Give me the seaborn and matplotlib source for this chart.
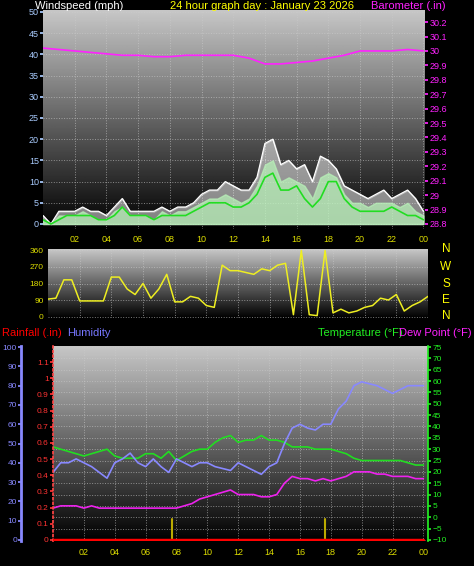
import numpy as np
import pandas as pd
import matplotlib
matplotlib.use("Agg")
import matplotlib.pyplot as plt
import seaborn as sns

sns.set_theme(style="dark")
plt.rcParams['font.family'] = ['Liberation Sans', 'DejaVu Sans']

hours = [i * 0.5 for i in range(49)]
gust = [2,0,3,3,3,4,3,3,2,4,6,3,3,3,3,4,3,4,4,5,7,8,8,10,9,8,8,11,19,20,14,15,13,14,10,16,15,13,9,8,7,6,7,8,6,7,8,6,3]
speed = [1,0,2,2,2,3,2,1,1,3,4,2,2,2,1,3,2,3,3,4,5,6,6,7,6,5,6,9,14,15,10,11,10,9,6,11,12,11,7,5,5,4,5,5,5,4,5,3,2]
avgwind = [1,0,1,2,2,2,2,1,1,2,4,2,2,2,1,2,2,2,2,3,4,5,5,5,4,4,5,7,11,12,8,8,9,6,4,6,10,10,6,4,3,3,3,3,4,3,2,2,1]
baro_hours = list(range(25))
baro = [30.02,30.01,30.0,29.99,29.98,29.97,29.97,29.96,29.96,29.97,29.97,29.97,29.97,29.95,29.91,29.91,29.92,29.93,29.95,29.97,30.0,30.0,30.0,30.01,30.0]
direction = [95,100,200,200,85,85,85,85,215,215,150,120,180,100,150,230,80,80,110,100,60,50,280,250,250,240,230,260,250,280,290,10,360,10,5,360,20,40,20,30,50,60,100,90,120,30,60,80,110]
humidity = [35,40,40,42,40,38,35,32,40,42,45,40,38,42,38,35,42,40,38,40,40,38,37,36,40,38,36,34,38,40,50,58,60,58,57,60,60,68,72,80,82,81,80,78,76,78,80,80,80]
temperature = [31,30,29,28,27,28,29,30,27,26,26,26,28,28,26,29,25,27,29,30,30,33,35,36,33,34,34,36,34,34,33,31,31,31,30,30,30,29,28,26,25,25,25,25,25,25,24,23,23]
dewpoint = [4,5,5,5,4,5,4,4,4,4,4,4,4,4,4,4,4,5,6,8,9,10,11,12,10,10,10,9,9,10,15,18,17,17,16,17,16,17,18,20,20,20,19,19,18,18,18,17,17]
rain = [0.0] * 49
markers = [7.7, 17.6]
xtick_pos = list(range(2, 25, 2))
xtick_lab = ["02","04","06","08","10","12","14","16","18","20","22","00"]

W, H = 474, 566
fig = plt.figure(figsize=(W/100, H/100), dpi=100, facecolor="black")

def rect(x0, y0, x1, y1):
    return [x0/W, 1 - y1/H, (x1-x0)/W, (y1-y0)/H]

grad = np.linspace(0.78, 0.0, 256).reshape(-1, 1)
def bg(ax):
    ax.imshow(grad, cmap="gray", vmin=0, vmax=1, aspect="auto",
              extent=[0, 1, 0, 1], transform=ax.transAxes, zorder=0)
    ax.grid(True, color="#cccccc", ls=":", lw=0.7, alpha=0.6)
    ax.set_facecolor("black")
    for s in ax.spines.values():
        s.set_visible(False)

fs = 6.5
tfs = 8
# ---- top panel
ax1 = fig.add_axes(rect(43, 10, 425, 229))
bg(ax1)
ax1.fill_between(hours, gust, color="white", alpha=0.5, zorder=2)
sns.lineplot(x=hours, y=gust, ax=ax1, color="white", lw=0.9, zorder=3)
ax1.fill_between(hours, speed, color="#b8f0b8", alpha=0.75, zorder=4)
sns.lineplot(x=hours, y=avgwind, ax=ax1, color="#22dd22", lw=1.2, zorder=5)
ax1.set_xlim(0, 24.1)
ax1.set_ylim(-1.18, 50.47)
ax1.set_yticks(range(0, 51, 5))
ax1.set_xticks(xtick_pos)
ax1.set_xticklabels(xtick_lab)
ax1.tick_params(axis="y", colors="#aaccff", labelsize=fs, length=2, pad=1)
ax1.tick_params(axis="x", colors="#dddd00", labelsize=fs, length=2, pad=2)
ax1b = ax1.twinx()
sns.lineplot(x=baro_hours, y=baro, ax=ax1b, color="#ff22ff", lw=1.2)
ax1b.set_ylim(28.765, 30.284)
bt = np.round(np.arange(28.8, 30.25, 0.1), 1)
ax1b.set_yticks(bt)
ax1b.set_yticklabels([("%g" % v) for v in bt])
ax1b.tick_params(axis="y", colors="#ff22ff", labelsize=fs, length=2, pad=1)
for s in ax1b.spines.values():
    s.set_visible(False)
ax1b.set_ylabel("")
ax1.set_ylabel("")
fig.text(35/W, 1-6/H, "Windspeed (mph)", color="white", fontsize=tfs, va="center")
fig.text(262/W, 1-6/H, "24 hour graph day : January 23 2026", color="yellow", fontsize=tfs, va="center", ha="center")
fig.text(446/W, 1-6/H, "Barometer (.in)", color="#ff22ff", fontsize=tfs, va="center", ha="right")

# ---- middle panel
ax2 = fig.add_axes(rect(48, 249, 428, 318))
bg(ax2)
sns.lineplot(x=hours, y=direction, ax=ax2, color="#eeee22", lw=1.1)
ax2.set_xlim(0, 24)
ax2.set_ylim(-8, 368)
ax2.set_yticks([0, 90, 180, 270, 360])
ax2.set_xticks(xtick_pos)
ax2.set_xticklabels([])
ax2.tick_params(axis="y", colors="#dddd00", labelsize=fs - 0.5, length=2, pad=1)
ax2.tick_params(axis="x", length=0)
ax2.set_ylabel("")
for lab, yp in zip(["N", "W", "S", "E", "N"], [249, 267, 284, 300, 316]):
    fig.text(446/W, 1-yp/H, lab, color="yellow", fontsize=8.5, ha="center", va="center")

# ---- bottom panel
ax3 = fig.add_axes(rect(53, 346, 428, 541))
bg(ax3)
sns.lineplot(x=hours, y=temperature, ax=ax3, color="#22dd22", lw=1.2, zorder=4)
sns.lineplot(x=hours, y=dewpoint, ax=ax3, color="#ee22ee", lw=1.2, zorder=4)
for m in markers:
    ax3.plot([m, m], [-10.5, -1], color="#bbaa00", lw=1.5, zorder=3)
ax3.set_xlim(0, 24.3)
ax3.set_ylim(-10.5, 75.5)
ax3.set_ylabel("")

axh = ax3.twinx()
sns.lineplot(x=hours, y=humidity, ax=axh, color="#8888ff", lw=1.2, zorder=5)
axh.set_ylim(-0.6, 100.6)
axh.set_yticks(range(0, 101, 10))
axh.yaxis.tick_left()
axh.yaxis.set_label_position("left")
axh.spines["left"].set_position(("outward", 23))
axh.spines["left"].set_visible(True)
axh.spines["left"].set_color("#8888ff")
axh.spines["left"].set_linewidth(2)
for k in ["right", "top", "bottom"]:
    axh.spines[k].set_visible(False)
axh.tick_params(axis="y", colors="#8888ff", labelsize=fs - 0.5, length=2, pad=1)
axh.set_ylabel("")

axr = ax3.twinx()
sns.lineplot(x=hours, y=rain, ax=axr, color="red", lw=2.5, zorder=6)
axr.set_ylim(-0.007, 1.2)
rt = [0, 0.1, 0.2, 0.3, 0.4, 0.5, 0.6, 0.7, 0.8, 0.9, 1, 1.1]
axr.set_yticks(rt)
axr.set_yticklabels([("%g" % v) for v in rt])
axr.yaxis.tick_left()
axr.spines["left"].set_visible(True)
axr.spines["left"].set_color("#ff4444")
axr.spines["left"].set_linestyle(":")
for k in ["right", "top", "bottom"]:
    axr.spines[k].set_visible(False)
axr.tick_params(axis="y", colors="#ff3333", labelsize=fs - 0.5, length=2, pad=1)
axr.set_ylabel("")

# temperature axis on the right (after twinx calls)
ax3.yaxis.tick_right()
ax3.set_yticks(range(-10, 76, 5))
ax3.tick_params(axis="y", colors="#22ee22", labelsize=fs - 0.5, length=2, pad=1,
                left=False, labelleft=False, right=True, labelright=True)
ax3.set_xticks(xtick_pos)
ax3.set_xticklabels(xtick_lab)
ax3.tick_params(axis="x", colors="#dddd00", labelsize=fs, length=2, pad=3)
ax3.spines["right"].set_visible(True)
ax3.spines["right"].set_color("#22ee22")

fig.text(2/W, 1-333/H, "Rainfall (.in)", color="red", fontsize=tfs, va="center")
fig.text(67/W, 1-333/H, "Humidity", color="#7777ff", fontsize=tfs, va="center")
fig.text(318/W, 1-333/H, "Temperature (°F)", color="#22ee22", fontsize=tfs, va="center")
fig.text(472/W, 1-333/H, "Dew Point (°F)", color="#ff22ff", fontsize=tfs, va="center", ha="right")

fig.savefig("out.png", dpi=100, facecolor="black")
